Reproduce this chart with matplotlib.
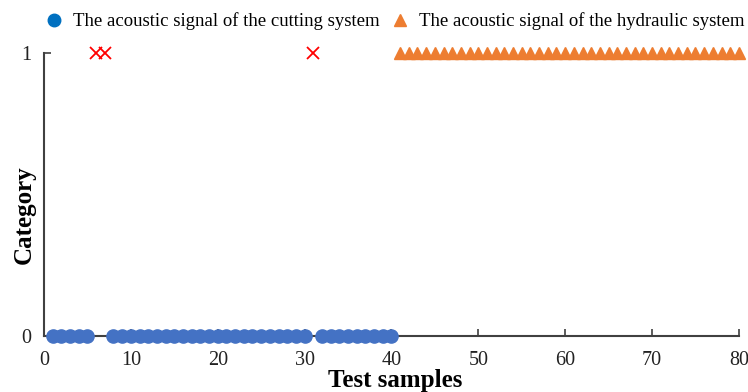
import matplotlib.pyplot as plt
from matplotlib.lines import Line2D
import numpy as np

# sample numbers and predicted category
cutting_samples = list(range(1, 41))
cutting_category = [0, 0, 0, 0, 0, 1, 1, 0, 0, 0,
                    0, 0, 0, 0, 0, 0, 0, 0, 0, 0,
                    0, 0, 0, 0, 0, 0, 0, 0, 0, 0,
                    1, 0, 0, 0, 0, 0, 0, 0, 0, 0]
hydraulic_samples = list(range(41, 81))
hydraulic_category = [1] * 40

x_ticks = [0, 10, 20, 30, 40, 50, 60, 70, 80]
y_ticks = [0, 1]

plt.rcParams["font.family"] = ["Liberation Serif", "DejaVu Serif"]

fig = plt.figure(figsize=(7.48, 3.92), dpi=100)
ax = fig.add_axes([0.0588, 0.1429, 0.929, 0.7219])

cs = np.array(cutting_samples)
cc = np.array(cutting_category)
ok = cc == 0
ax.plot(cs[ok], cc[ok], "o", color="#4472C4", markersize=9.5, linestyle="none",
        zorder=3, clip_on=False)
ax.plot(cs[~ok], cc[~ok], "x", color="#FF0000", markersize=8, markeredgewidth=1.3,
        linestyle="none", zorder=3, clip_on=False)
ax.plot(hydraulic_samples, hydraulic_category, "^", color="#ED7D31", markersize=8,
        linestyle="none", zorder=3, clip_on=False)

ax.set_xlim(0, 80)
ax.set_ylim(0, 1)
ax.set_xticks(x_ticks)
ax.set_yticks(y_ticks)
ax.tick_params(direction="in", length=5, width=1.2, color="#404040", labelsize=14.5,
               labelcolor="#222222")
ax.tick_params(axis="x", pad=11)
ax.tick_params(axis="y", pad=9)
for s in ["top", "right"]:
    ax.spines[s].set_visible(False)
for s in ["left", "bottom"]:
    ax.spines[s].set_color("#404040")
    ax.spines[s].set_linewidth(1.5)

ax.set_xlabel("Test samples", fontsize=18, fontweight="bold")
ax.xaxis.set_label_coords(0.505, -0.118)
ax.set_ylabel("Category", fontsize=18, fontweight="bold")
ax.yaxis.set_label_coords(-0.012, 0.43)

handles = [
    Line2D([], [], marker="o", color="#0070C0", linestyle="none", markersize=9),
    Line2D([], [], marker="^", color="#ED7D31", linestyle="none", markersize=9),
]
labels = ["The acoustic signal of the cutting system",
          "The acoustic signal of the hydraulic system"]
fig.legend(handles, labels, loc="center", bbox_to_anchor=(0.527, 0.945), ncol=2,
           frameon=False, fontsize=13.5, handletextpad=0.5, columnspacing=0.6,
           handlelength=1.0)

fig.savefig("out.png", dpi=100)
